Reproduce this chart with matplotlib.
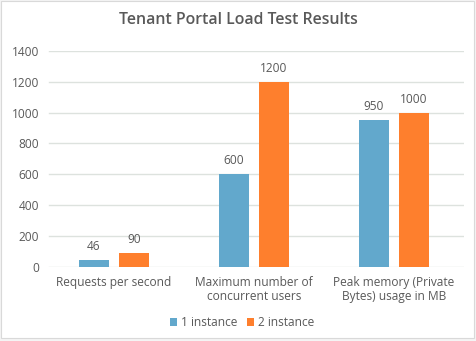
import matplotlib
matplotlib.use("Agg")
import matplotlib.pyplot as plt
from matplotlib.patches import Rectangle
import numpy as np

categories = ["Requests per second", "Maximum number of\nconcurrent users", "Peak memory (Private\nBytes) usage in MB"]
series_names = ["1 instance", "2 instance"]
one_instance = [46, 600, 950]
two_instance = [90, 1200, 1000]
yticks = [0, 200, 400, 600, 800, 1000, 1200, 1400]

colors = ["#62a8cc", "#fe7f2d"]
text_color = "#595959"
grid_color = "#dde2de"

W, H = 476, 341
fig = plt.figure(figsize=(W / 100, H / 100), dpi=100)
fig.patch.set_facecolor("#f4f4f4")
fig.patches.append(Rectangle((1 / W, 3 / H), 473 / W, 337 / H, transform=fig.transFigure,
                             facecolor="white", edgecolor="#d9d9d9", linewidth=0.8, zorder=-10))
plt.rcParams['font.family'] = ['Open Sans', 'DejaVu Sans']

x0, x1 = 44, 464
ytop, ybot = 51, 266.7
ax = fig.add_axes([x0 / W, 1 - ybot / H, (x1 - x0) / W, (ybot - ytop) / H])
ax.set_facecolor("none")
ax.set_zorder(5)

x = np.arange(len(categories))
bw = 30 / 140
gap = 10 / 140
offs = (bw + gap) / 2
b1 = ax.bar(x - offs, one_instance, bw, color=colors[0], label=series_names[0], zorder=3)
b2 = ax.bar(x + offs, two_instance, bw, color=colors[1], label=series_names[1], zorder=3)
for bars, vals in ((b1, one_instance), (b2, two_instance)):
    for r, v in zip(bars, vals):
        ax.annotate(str(v), (r.get_x() + r.get_width() / 2, v), xytext=(0, 5),
                    textcoords="offset points", ha="center", va="bottom",
                    fontsize=8.6, color=text_color)

ax.set_xlim(-0.5, 2.5)
ax.set_ylim(0, 1400)
ax.set_yticks(yticks)
ax.set_yticklabels([str(t) for t in yticks])
ax.set_xticks(x)
ax.set_xticklabels(categories, linespacing=1.05)
ax.tick_params(axis="both", length=0, colors=text_color, labelsize=8.6)
ax.tick_params(axis="y", pad=3.6)
ax.tick_params(axis="x", pad=7)
for s in ax.spines.values():
    s.set_visible(False)
for t in yticks:
    ax.axhline(t, xmin=5 / 420, xmax=419 / 420, color=grid_color, linewidth=1, zorder=0)

fig.text(238 / W, 1 - 20 / H, "Tenant Portal Load Test Results", ha="center", va="center",
         fontsize=11.4, fontweight="semibold", color=text_color, zorder=6)

leg = fig.legend(handles=[b1, b2], labels=series_names, loc="center",
                 bbox_to_anchor=(242 / W, 1 - 323 / H), ncol=2, frameon=False,
                 fontsize=8.6, handlelength=0.6, handleheight=0.6, handletextpad=0.3,
                 columnspacing=0.8, labelcolor=text_color)
leg.set_zorder(6)

fig.savefig("out.png", dpi=100, facecolor=fig.get_facecolor())
